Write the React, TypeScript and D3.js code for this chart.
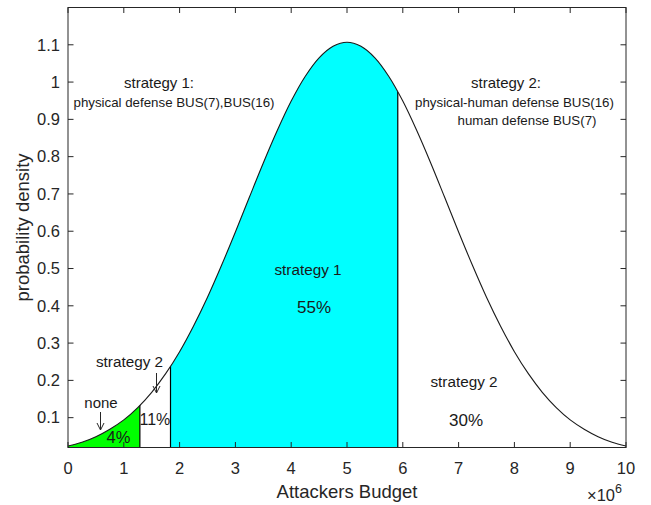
import React from 'react';
import * as d3 from 'd3';

// attacker budget (x 10^6) sample positions and probability density
const budget = [0, 0.25, 0.5, 0.75, 1, 1.25, 1.5, 1.75, 2, 2.25, 2.5, 2.75, 3, 3.25, 3.5, 3.75, 4, 4.25, 4.5, 4.75, 5,
  5.25, 5.5, 5.75, 6, 6.25, 6.5, 6.75, 7, 7.25, 7.5, 7.75, 8, 8.25, 8.5, 8.75, 9, 9.25, 9.5, 9.75, 10];
const density = [0.024, 0.034, 0.049, 0.069, 0.094, 0.127, 0.168, 0.218, 0.277, 0.346, 0.423, 0.508, 0.598, 0.691, 0.783, 0.870, 0.949, 1.015, 1.065, 1.096, 1.107,
  1.096, 1.065, 1.015, 0.949, 0.870, 0.783, 0.691, 0.598, 0.508, 0.423, 0.346, 0.277, 0.218, 0.168, 0.127, 0.094, 0.069, 0.049, 0.034, 0.024];
// strategy boundaries on the budget axis
const cutoffs = [1.288, 1.837, 5.91];
const xTicks = [0, 1, 2, 3, 4, 5, 6, 7, 8, 9, 10];
const yTicks = [0.1, 0.2, 0.3, 0.4, 0.5, 0.6, 0.7, 0.8, 0.9, 1, 1.1];
const xDomain = [0, 10];
const yDomain = [0.02, 1.2];

const FONT = '"Liberation Sans", Arial, Helvetica, sans-serif';
const TXT = '#262626';

export default function App() {
  const W = 651, H = 505;
  const L = 68, R = 626, T = 7.5, B = 447.5;
  const x = d3.scaleLinear().domain(xDomain).range([L, R]);
  const y = d3.scaleLinear().domain(yDomain).range([B, T]);
  const pts = budget.map((b, i) => [b, density[i]] as [number, number]);

  const line = d3.line<[number, number]>().x(d => x(d[0])).y(d => y(d[1])).curve(d3.curveCatmullRom)(pts) || '';
  const area = d3.area<[number, number]>().x(d => x(d[0])).y0(B).y1(d => y(d[1])).curve(d3.curveCatmullRom)(pts) || '';

  const tick = 5.5;
  const arrow = (ax: number, y1: number, y2: number) => (
    <g stroke={TXT} strokeWidth={1} fill="none">
      <line x1={ax} x2={ax} y1={y1} y2={y2} />
      <path d={`M${ax - 3.5},${y2 - 7} L${ax},${y2} L${ax + 3.5},${y2 - 7}`} />
    </g>
  );

  return (
    <svg width={W} height={H} style={{ position: 'absolute', left: 0, top: 0, background: '#fff' }} fontFamily={FONT}>
      <defs>
        <clipPath id="underCurve"><path d={area} /></clipPath>
        <clipPath id="greenClip"><rect x={x(0)} y={T} width={x(cutoffs[0]) - x(0)} height={B - T} /></clipPath>
        <clipPath id="cyanClip"><rect x={x(cutoffs[1])} y={T} width={x(cutoffs[2]) - x(cutoffs[1])} height={B - T} /></clipPath>
      </defs>
      <rect x={0} y={0} width={W} height={H} fill="#fff" />
      <path d={area} fill="#00ff00" clipPath="url(#greenClip)" />
      <path d={area} fill="#00ffff" clipPath="url(#cyanClip)" />
      <g clipPath="url(#underCurve)" stroke="#000" strokeWidth={1.2}>
        {cutoffs.map((c, i) => <line key={i} x1={x(c)} x2={x(c)} y1={T} y2={B} />)}
      </g>
      <path d={line} fill="none" stroke="#1a1a1a" strokeWidth={1.1} />

      {/* axes box */}
      <rect x={L} y={T} width={R - L} height={B - T} fill="none" stroke={TXT} strokeWidth={1} />
      {xTicks.map(t => (
        <g key={'x' + t}>
          <line x1={x(t)} x2={x(t)} y1={B} y2={B - tick} stroke={TXT} />
          <line x1={x(t)} x2={x(t)} y1={T} y2={T + tick} stroke={TXT} />
          <text x={x(t)} y={474} textAnchor="middle" fontSize={16.5} fill={TXT}>{t}</text>
        </g>
      ))}
      {yTicks.map(t => (
        <g key={'y' + t}>
          <line x1={L} x2={L + tick} y1={y(t)} y2={y(t)} stroke={TXT} />
          <line x1={R} x2={R - tick} y1={y(t)} y2={y(t)} stroke={TXT} />
          <text x={60} y={y(t)} dy="0.35em" textAnchor="end" fontSize={16.5} fill={TXT}>{t}</text>
        </g>
      ))}
      <text x={(L + R) / 2} y={498} textAnchor="middle" fontSize={18.5} fill={TXT}>Attackers Budget</text>
      <text transform={`translate(29,${(T + B) / 2}) rotate(-90)`} textAnchor="middle" fontSize={18.5} fill={TXT}>probability density</text>
      <text x={587} y={501} fontSize={16.5} fill={TXT}>×10<tspan dy={-8} fontSize={12.5}>6</tspan></text>

      {/* annotations */}
      <g fill="#1a1a1a" textAnchor="middle">
        <text x={159} y={88} fontSize={15}>strategy 1:</text>
        <text x={174} y={107} fontSize={13.3}>physical defense BUS(7),BUS(16)</text>
        <text x={506} y={88} fontSize={15}>strategy 2:</text>
        <text x={514.5} y={107} fontSize={13.3}>physical-human defense BUS(16)</text>
        <text x={527} y={125} fontSize={13.3}>human defense BUS(7)</text>
        <text x={308} y={275} fontSize={15.3}>strategy 1</text>
        <text x={314} y={313} fontSize={17}>55%</text>
        <text x={464} y={386.5} fontSize={15.3}>strategy 2</text>
        <text x={466} y={426} fontSize={17}>30%</text>
        <text x={129.5} y={367} fontSize={15.3}>strategy 2</text>
        <text x={101} y={408} fontSize={15}>none</text>
        <text x={139.5} y={425} fontSize={16} textAnchor="start">11%</text>
        <text x={118.5} y={443} fontSize={16.5}>4%</text>
      </g>
      {arrow(100.5, 412, 430)}
      {arrow(156.5, 373, 393)}
    </svg>
  );
}
